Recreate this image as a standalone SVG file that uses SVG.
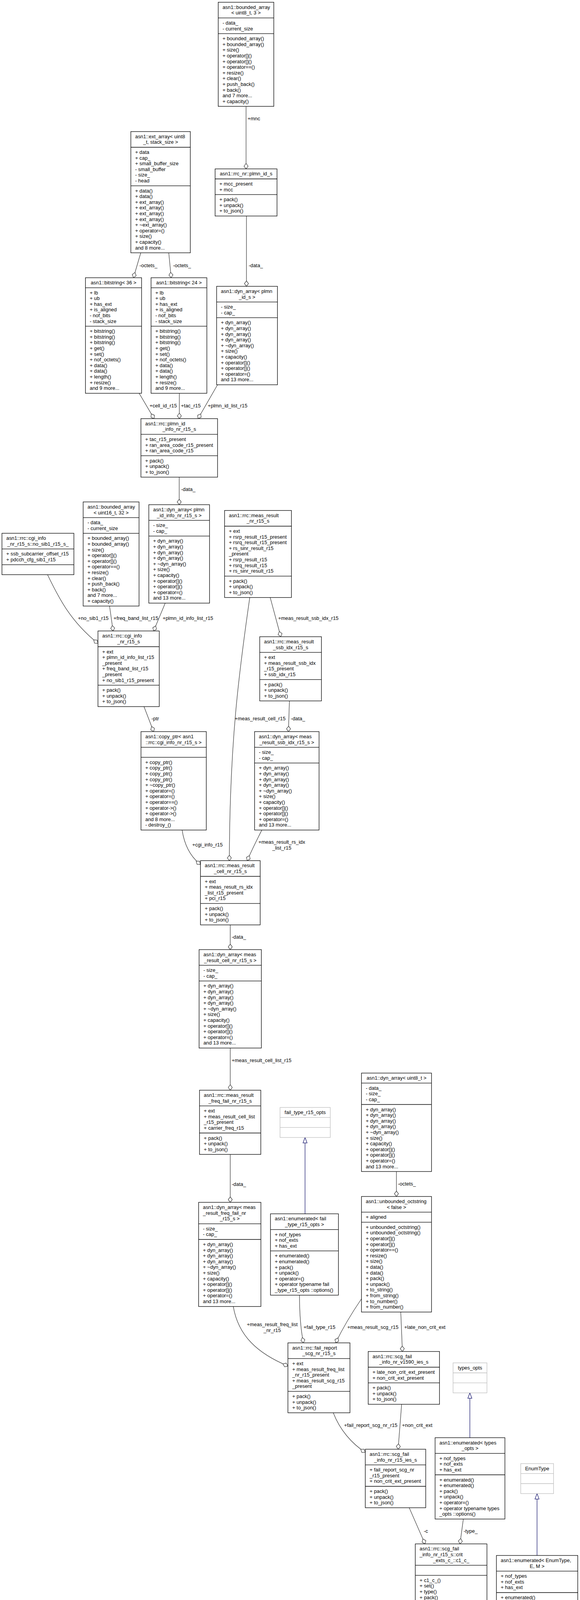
<svg xmlns="http://www.w3.org/2000/svg" width="1485" height="4527" viewBox="0 0 1485 4527">
<style>
text{font-family:"Liberation Sans",Arial,Helvetica,sans-serif;font-size:12.9px;fill:#000}
.b{fill:#fff;stroke:#000;stroke-width:1.3}
.g{fill:#fff;stroke:#bfbfbf;stroke-width:1.3}
.r{fill:#bfbfbf;stroke:#000;stroke-width:1.3}
.s{stroke:#000;stroke-width:1.3}
.sg{stroke:#bfbfbf;stroke-width:1.3}
.m{text-anchor:middle}
.e{fill:none;stroke:#404040;stroke-width:1.3;marker-end:url(#dia)}
.i{fill:none;stroke:#191970;stroke-width:1.3;marker-end:url(#tri)}
</style>
<defs>
<marker id="dia" markerUnits="userSpaceOnUse" markerWidth="16" markerHeight="12" viewBox="0 0 16 12" refX="15" refY="6" orient="auto"><path d="M1,6 L8,0.8 L15,6 L8,11.2 Z" fill="#fff" stroke="#404040" stroke-width="1.3"/></marker>
<marker id="tri" markerUnits="userSpaceOnUse" markerWidth="16" markerHeight="12" viewBox="0 0 16 12" refX="15" refY="6" orient="auto"><path d="M1,0.8 L15,6 L1,11.2 Z" fill="#fff" stroke="#191970" stroke-width="1.3"/></marker>
</defs>
<rect x="0" y="0" width="1485" height="4527" fill="#fff"/>

<g id="edges">
<path class="e" d="M630,272.3 L630,432.4"/>
<path class="e" d="M360.4,647.2 L341.7,711"/>
<path class="e" d="M432.1,647.2 L438.3,711"/>
<path class="e" d="M631,553 L631,733"/>
<path class="e" d="M356.3,1006.8 L394.5,1071.7"/>
<path class="e" d="M459.2,1006.8 L459.2,1071.7"/>
<path class="e" d="M557,985 L507,1071.7"/>
<path class="e" d="M458.8,1221.5 L458.8,1292"/>
<path class="e" d="M121.7,1471.2 C150,1530 180,1590 250.8,1647"/>
<path class="e" d="M280.5,1551.5 L289.5,1615.3"/>
<path class="e" d="M423,1544 L393.3,1615.3"/>
<path class="e" d="M691.8,1529.6 L718.9,1630"/>
<path class="e" d="M639.5,1529.6 C612,1720 588,1900 587.2,2203.3"/>
<path class="e" d="M741,1794.4 L738.5,1872.9"/>
<path class="e" d="M368.7,1808.9 L393.3,1872.9"/>
<path class="e" d="M466.2,2124.9 C472,2162 486,2192 513.3,2213"/>
<path class="e" d="M670.3,2124.9 C658,2150 645,2175 633,2203.3"/>
<path class="e" d="M589.5,2367.7 L589.5,2431"/>
<path class="e" d="M589.5,2683 L589.5,2790.9"/>
<path class="e" d="M589.5,2955.3 L589.5,3078"/>
<path class="i" d="M781,3107.4 L781,2911.9"/>
<path class="e" d="M1015,2999.1 L1015,3063"/>
<path class="e" d="M597.3,3344.6 C610,3420 660,3465 737.2,3497"/>
<path class="e" d="M766.7,3315.6 C767,3370 771,3410 777,3437.7"/>
<path class="e" d="M925.5,3325 C905,3355 880,3395 859.3,3437.7"/>
<path class="e" d="M1026.1,3358.8 L1030.3,3459.8"/>
<path class="e" d="M853.3,3616.7 C870,3660 900,3695 935.3,3718"/>
<path class="e" d="M1028.3,3595 L1019.3,3710"/>
<path class="i" d="M1203,3680.5 L1203,3565.7"/>
<path class="i" d="M1375,3982 L1375,3823.6"/>
<path class="e" d="M1047.7,3859.8 L1088.3,3952.4"/>
<path class="e" d="M1186.3,3888.7 L1177.7,3952.4"/>
<path class="e" d="M1201.7,4219 L1221.7,4283.1"/>
<path class="e" d="M1338.3,4190.2 L1308.3,4283.1"/>
<text x="634" y="308">+mnc</text>
<text x="357" y="683.5">-octets_</text>
<text x="443" y="683.5">-octets_</text>
<text x="636.7" y="683.5">-data_</text>
<text x="383" y="1043.3">+cell_id_r15</text>
<text x="463.3" y="1043.3">+tac_r15</text>
<text x="532" y="1043.3">+plmn_id_list_r15</text>
<text x="463.8" y="1256.5">-data_</text>
<text x="199.5" y="1587">+no_sib1_r15</text>
<text x="290.8" y="1587">+freq_band_list_r15</text>
<text x="416.4" y="1587">+plmn_id_info_list_r15</text>
<text x="712.3" y="1587">+meas_result_ssb_idx_r15</text>
<text x="601" y="1844">+meas_result_cell_r15</text>
<text x="744.6" y="1844">-data_</text>
<text x="387.7" y="1844">-ptr</text>
<text x="492.3" y="2167">+cgi_info_r15</text>
<text class="m" x="721.5" y="2160">+meas_result_rs_idx</text>
<text class="m" x="721.5" y="2175">_list_r15</text>
<text x="593.3" y="2403.3">-data_</text>
<text x="593.3" y="2719">+meas_result_cell_list_r15</text>
<text x="593.3" y="3035.5">-data_</text>
<text x="1018.8" y="3034.8">-octets_</text>
<text class="m" x="697" y="3395">+meas_result_freq_list</text>
<text class="m" x="697" y="3409.5">_nr_r15</text>
<text x="777.3" y="3402.2">+fail_type_r15</text>
<text x="889.3" y="3402.2">+meas_result_scg_r15</text>
<text x="1035" y="3402.2">+late_non_crit_ext</text>
<text x="881" y="3652.5">+fail_report_scg_nr_r15</text>
<text x="1029.3" y="3652.5">+non_crit_ext</text>
<text x="1085" y="3924">-c</text>
<text x="1187" y="3924">-type_</text>
<text x="1218.3" y="4255.4">-c</text>
<text x="1325" y="4255.4">-type_</text>
</g>

<g id="bounded_array_uint8_3">
<rect class="b" x="558.7" y="5.7" width="142.3" height="266.6"/>
<line class="s" x1="558.7" y1="45.9" x2="701" y2="45.9"/>
<line class="s" x1="558.7" y1="86.1" x2="701" y2="86.1"/>
<text x="569.7" y="22.7">asn1::bounded_array</text>
<text class="m" x="629.85" y="37.3">&lt; uint8_t, 3 &gt;</text>
<text><tspan x="569.7" y="62.9">- data_</tspan><tspan x="569.7" y="77.5">- current_size</tspan></text>
<text><tspan x="569.7" y="103.1">+ bounded_array()</tspan><tspan x="569.7" y="117.7">+ bounded_array()</tspan><tspan x="569.7" y="132.3">+ size()</tspan><tspan x="569.7" y="146.9">+ operator[]()</tspan><tspan x="569.7" y="161.5">+ operator[]()</tspan><tspan x="569.7" y="176.1">+ operator==()</tspan><tspan x="569.7" y="190.7">+ resize()</tspan><tspan x="569.7" y="205.3">+ clear()</tspan><tspan x="569.7" y="219.9">+ push_back()</tspan><tspan x="569.7" y="234.5">+ back()</tspan><tspan x="569.7" y="249.1">and 7 more...</tspan><tspan x="569.7" y="263.7">+ capacity()</tspan></text>
</g>

<g id="ext_array">
<rect class="b" x="335" y="336.8" width="152.3" height="310.4"/>
<line class="s" x1="335" y1="377" x2="487.3" y2="377"/>
<line class="s" x1="335" y1="475.6" x2="487.3" y2="475.6"/>
<text x="346" y="353.8">asn1::ext_array&lt; uint8</text>
<text class="m" x="411.15" y="368.4">_t, stack_size &gt;</text>
<text><tspan x="346" y="394">+ data</tspan><tspan x="346" y="408.6">+ cap_</tspan><tspan x="346" y="423.2">+ small_buffer_size</tspan><tspan x="346" y="437.8">- small_buffer</tspan><tspan x="346" y="452.4">- size_</tspan><tspan x="346" y="467">- head</tspan></text>
<text><tspan x="346" y="492.6">+ data()</tspan><tspan x="346" y="507.2">+ data()</tspan><tspan x="346" y="521.8">+ ext_array()</tspan><tspan x="346" y="536.4">+ ext_array()</tspan><tspan x="346" y="551">+ ext_array()</tspan><tspan x="346" y="565.6">+ ext_array()</tspan><tspan x="346" y="580.2">+ ~ext_array()</tspan><tspan x="346" y="594.8">+ operator=()</tspan><tspan x="346" y="609.4">+ size()</tspan><tspan x="346" y="624">+ capacity()</tspan><tspan x="346" y="638.6">and 8 more...</tspan></text>
</g>

<g id="plmn_id_s">
<rect class="b" x="550.7" y="432.4" width="158.6" height="120.6"/>
<line class="s" x1="550.7" y1="458" x2="709.3" y2="458"/>
<line class="s" x1="550.7" y1="498.2" x2="709.3" y2="498.2"/>
<text class="m" x="630" y="449.4">asn1::rrc_nr::plmn_id_s</text>
<text><tspan x="561.7" y="475">+ mcc_present</tspan><tspan x="561.7" y="489.6">+ mcc</tspan></text>
<text><tspan x="561.7" y="515.2">+ pack()</tspan><tspan x="561.7" y="529.8">+ unpack()</tspan><tspan x="561.7" y="544.4">+ to_json()</tspan></text>
</g>

<g id="bitstring_36">
<rect class="b" x="218.75" y="711" width="143.75" height="295.8"/>
<line class="s" x1="218.75" y1="736.6" x2="362.5" y2="736.6"/>
<line class="s" x1="218.75" y1="835.2" x2="362.5" y2="835.2"/>
<text class="m" x="290.6" y="728">asn1::bitstring&lt; 36 &gt;</text>
<text><tspan x="229.75" y="753.6">+ lb</tspan><tspan x="229.75" y="768.2">+ ub</tspan><tspan x="229.75" y="782.8">+ has_ext</tspan><tspan x="229.75" y="797.4">+ is_aligned</tspan><tspan x="229.75" y="812">- nof_bits</tspan><tspan x="229.75" y="826.6">- stack_size</tspan></text>
<text><tspan x="229.75" y="852.2">+ bitstring()</tspan><tspan x="229.75" y="866.8">+ bitstring()</tspan><tspan x="229.75" y="881.4">+ bitstring()</tspan><tspan x="229.75" y="896">+ get()</tspan><tspan x="229.75" y="910.6">+ set()</tspan><tspan x="229.75" y="925.2">+ nof_octets()</tspan><tspan x="229.75" y="939.8">+ data()</tspan><tspan x="229.75" y="954.4">+ data()</tspan><tspan x="229.75" y="969">+ length()</tspan><tspan x="229.75" y="983.6">+ resize()</tspan><tspan x="229.75" y="998.2">and 9 more...</tspan></text>
</g>

<g id="bitstring_24">
<rect class="b" x="386.7" y="711" width="142.9" height="295.8"/>
<line class="s" x1="386.7" y1="736.6" x2="529.6" y2="736.6"/>
<line class="s" x1="386.7" y1="835.2" x2="529.6" y2="835.2"/>
<text class="m" x="458.15" y="728">asn1::bitstring&lt; 24 &gt;</text>
<text><tspan x="397.7" y="753.6">+ lb</tspan><tspan x="397.7" y="768.2">+ ub</tspan><tspan x="397.7" y="782.8">+ has_ext</tspan><tspan x="397.7" y="797.4">+ is_aligned</tspan><tspan x="397.7" y="812">- nof_bits</tspan><tspan x="397.7" y="826.6">- stack_size</tspan></text>
<text><tspan x="397.7" y="852.2">+ bitstring()</tspan><tspan x="397.7" y="866.8">+ bitstring()</tspan><tspan x="397.7" y="881.4">+ bitstring()</tspan><tspan x="397.7" y="896">+ get()</tspan><tspan x="397.7" y="910.6">+ set()</tspan><tspan x="397.7" y="925.2">+ nof_octets()</tspan><tspan x="397.7" y="939.8">+ data()</tspan><tspan x="397.7" y="954.4">+ data()</tspan><tspan x="397.7" y="969">+ length()</tspan><tspan x="397.7" y="983.6">+ resize()</tspan><tspan x="397.7" y="998.2">and 9 more...</tspan></text>
</g>

<g id="dyn_array_plmn_id_s">
<rect class="b" x="554.6" y="733" width="155.8" height="252"/>
<line class="s" x1="554.6" y1="773.2" x2="710.4" y2="773.2"/>
<line class="s" x1="554.6" y1="813.4" x2="710.4" y2="813.4"/>
<text x="565.6" y="750">asn1::dyn_array&lt; plmn</text>
<text class="m" x="632.5" y="764.6">_id_s &gt;</text>
<text><tspan x="565.6" y="790.2">- size_</tspan><tspan x="565.6" y="804.8">- cap_</tspan></text>
<text><tspan x="565.6" y="830.4">+ dyn_array()</tspan><tspan x="565.6" y="845">+ dyn_array()</tspan><tspan x="565.6" y="859.6">+ dyn_array()</tspan><tspan x="565.6" y="874.2">+ dyn_array()</tspan><tspan x="565.6" y="888.8">+ ~dyn_array()</tspan><tspan x="565.6" y="903.4">+ size()</tspan><tspan x="565.6" y="918">+ capacity()</tspan><tspan x="565.6" y="932.6">+ operator[]()</tspan><tspan x="565.6" y="947.2">+ operator[]()</tspan><tspan x="565.6" y="961.8">+ operator=()</tspan><tspan x="565.6" y="976.4">and 13 more...</tspan></text>
</g>

<g id="plmn_id_info_nr_r15_s">
<rect class="b" x="360.8" y="1071.7" width="196.2" height="149.8"/>
<line class="s" x1="360.8" y1="1111.9" x2="557" y2="1111.9"/>
<line class="s" x1="360.8" y1="1166.7" x2="557" y2="1166.7"/>
<text x="371.8" y="1088.7">asn1::rrc::plmn_id</text>
<text class="m" x="458.9" y="1103.3">_info_nr_r15_s</text>
<text><tspan x="371.8" y="1128.9">+ tac_r15_present</tspan><tspan x="371.8" y="1143.5">+ ran_area_code_r15_present</tspan><tspan x="371.8" y="1158.1">+ ran_area_code_r15</tspan></text>
<text><tspan x="371.8" y="1183.7">+ pack()</tspan><tspan x="371.8" y="1198.3">+ unpack()</tspan><tspan x="371.8" y="1212.9">+ to_json()</tspan></text>
</g>

<g id="bounded_array_uint16_32">
<rect class="b" x="212.9" y="1284.9" width="143.1" height="266.6"/>
<line class="s" x1="212.9" y1="1325.1" x2="356" y2="1325.1"/>
<line class="s" x1="212.9" y1="1365.3" x2="356" y2="1365.3"/>
<text x="223.9" y="1301.9">asn1::bounded_array</text>
<text class="m" x="284.45" y="1316.5">&lt; uint16_t, 32 &gt;</text>
<text><tspan x="223.9" y="1342.1">- data_</tspan><tspan x="223.9" y="1356.7">- current_size</tspan></text>
<text><tspan x="223.9" y="1382.3">+ bounded_array()</tspan><tspan x="223.9" y="1396.9">+ bounded_array()</tspan><tspan x="223.9" y="1411.5">+ size()</tspan><tspan x="223.9" y="1426.1">+ operator[]()</tspan><tspan x="223.9" y="1440.7">+ operator[]()</tspan><tspan x="223.9" y="1455.3">+ operator==()</tspan><tspan x="223.9" y="1469.9">+ resize()</tspan><tspan x="223.9" y="1484.5">+ clear()</tspan><tspan x="223.9" y="1499.1">+ push_back()</tspan><tspan x="223.9" y="1513.7">+ back()</tspan><tspan x="223.9" y="1528.3">and 7 more...</tspan><tspan x="223.9" y="1542.9">+ capacity()</tspan></text>
</g>

<g id="no_sib1_r15_s">
<rect class="b" x="5" y="1365.2" width="184.2" height="106"/>
<line class="s" x1="5" y1="1405.4" x2="189.2" y2="1405.4"/>
<line class="s" x1="5" y1="1445.6" x2="189.2" y2="1445.6"/>
<text x="16" y="1382.2">asn1::rrc::cgi_info</text>
<text class="m" x="97.1" y="1396.8">_nr_r15_s::no_sib1_r15_s_</text>
<text><tspan x="16" y="1422.4">+ ssb_subcarrier_offset_r15</tspan><tspan x="16" y="1437">+ pdcch_cfg_sib1_r15</tspan></text>
</g>

<g id="dyn_array_plmn_id_info">
<rect class="b" x="381" y="1292" width="155.5" height="252"/>
<line class="s" x1="381" y1="1332.2" x2="536.5" y2="1332.2"/>
<line class="s" x1="381" y1="1372.4" x2="536.5" y2="1372.4"/>
<text x="392" y="1309">asn1::dyn_array&lt; plmn</text>
<text class="m" x="458.75" y="1323.6">_id_info_nr_r15_s &gt;</text>
<text><tspan x="392" y="1349.2">- size_</tspan><tspan x="392" y="1363.8">- cap_</tspan></text>
<text><tspan x="392" y="1389.4">+ dyn_array()</tspan><tspan x="392" y="1404">+ dyn_array()</tspan><tspan x="392" y="1418.6">+ dyn_array()</tspan><tspan x="392" y="1433.2">+ dyn_array()</tspan><tspan x="392" y="1447.8">+ ~dyn_array()</tspan><tspan x="392" y="1462.4">+ size()</tspan><tspan x="392" y="1477">+ capacity()</tspan><tspan x="392" y="1491.6">+ operator[]()</tspan><tspan x="392" y="1506.2">+ operator[]()</tspan><tspan x="392" y="1520.8">+ operator=()</tspan><tspan x="392" y="1535.4">and 13 more...</tspan></text>
</g>

<g id="meas_result_nr_r15_s">
<rect class="b" x="575" y="1306.8" width="171.2" height="222.8"/>
<line class="s" x1="575" y1="1347" x2="746.2" y2="1347"/>
<line class="s" x1="575" y1="1474.8" x2="746.2" y2="1474.8"/>
<text x="586" y="1323.8">asn1::rrc::meas_result</text>
<text class="m" x="660.6" y="1338.4">_nr_r15_s</text>
<text><tspan x="586" y="1364">+ ext</tspan><tspan x="586" y="1378.6">+ rsrp_result_r15_present</tspan><tspan x="586" y="1393.2">+ rsrq_result_r15_present</tspan><tspan x="586" y="1407.8">+ rs_sinr_result_r15</tspan><tspan x="586" y="1422.4">_present</tspan><tspan x="586" y="1437">+ rsrp_result_r15</tspan><tspan x="586" y="1451.6">+ rsrq_result_r15</tspan><tspan x="586" y="1466.2">+ rs_sinr_result_r15</tspan></text>
<text><tspan x="586" y="1491.8">+ pack()</tspan><tspan x="586" y="1506.4">+ unpack()</tspan><tspan x="586" y="1521">+ to_json()</tspan></text>
</g>

<g id="cgi_info_nr_r15_s">
<rect class="b" x="250.8" y="1615.3" width="156.9" height="193.6"/>
<line class="s" x1="250.8" y1="1655.5" x2="407.7" y2="1655.5"/>
<line class="s" x1="250.8" y1="1754.1" x2="407.7" y2="1754.1"/>
<text x="261.8" y="1632.3">asn1::rrc::cgi_info</text>
<text class="m" x="329.25" y="1646.9">_nr_r15_s</text>
<text><tspan x="261.8" y="1672.5">+ ext</tspan><tspan x="261.8" y="1687.1">+ plmn_id_info_list_r15</tspan><tspan x="261.8" y="1701.7">_present</tspan><tspan x="261.8" y="1716.3">+ freq_band_list_r15</tspan><tspan x="261.8" y="1730.9">_present</tspan><tspan x="261.8" y="1745.5">+ no_sib1_r15_present</tspan></text>
<text><tspan x="261.8" y="1771.1">+ pack()</tspan><tspan x="261.8" y="1785.7">+ unpack()</tspan><tspan x="261.8" y="1800.3">+ to_json()</tspan></text>
</g>

<g id="meas_result_ssb_idx_r15_s">
<rect class="b" x="665" y="1630" width="158" height="164.4"/>
<line class="s" x1="665" y1="1670.2" x2="823" y2="1670.2"/>
<line class="s" x1="665" y1="1739.6" x2="823" y2="1739.6"/>
<text x="676" y="1647">asn1::rrc::meas_result</text>
<text class="m" x="744" y="1661.6">_ssb_idx_r15_s</text>
<text><tspan x="676" y="1687.2">+ ext</tspan><tspan x="676" y="1701.8">+ meas_result_ssb_idx</tspan><tspan x="676" y="1716.4">_r15_present</tspan><tspan x="676" y="1731">+ ssb_idx_r15</tspan></text>
<text><tspan x="676" y="1756.6">+ pack()</tspan><tspan x="676" y="1771.2">+ unpack()</tspan><tspan x="676" y="1785.8">+ to_json()</tspan></text>
</g>

<g id="copy_ptr_cgi_info">
<rect class="b" x="361" y="1872.9" width="167.2" height="252"/>
<line class="s" x1="361" y1="1913.1" x2="528.2" y2="1913.1"/>
<line class="s" x1="361" y1="1938.7" x2="528.2" y2="1938.7"/>
<text x="372" y="1889.9">asn1::copy_ptr&lt; asn1</text>
<text class="m" x="444.6" y="1904.5">::rrc::cgi_info_nr_r15_s &gt;</text>
<text><tspan x="372" y="1955.7">+ copy_ptr()</tspan><tspan x="372" y="1970.3">+ copy_ptr()</tspan><tspan x="372" y="1984.9">+ copy_ptr()</tspan><tspan x="372" y="1999.5">+ copy_ptr()</tspan><tspan x="372" y="2014.1">+ ~copy_ptr()</tspan><tspan x="372" y="2028.7">+ operator=()</tspan><tspan x="372" y="2043.3">+ operator=()</tspan><tspan x="372" y="2057.9">+ operator==()</tspan><tspan x="372" y="2072.5">+ operator-&gt;()</tspan><tspan x="372" y="2087.1">+ operator-&gt;()</tspan><tspan x="372" y="2101.7">and 8 more...</tspan><tspan x="372" y="2116.3">- destroy_()</tspan></text>
</g>

<g id="dyn_array_meas_result_ssb_idx">
<rect class="b" x="651.8" y="1872.9" width="165.1" height="252"/>
<line class="s" x1="651.8" y1="1913.1" x2="816.9" y2="1913.1"/>
<line class="s" x1="651.8" y1="1953.3" x2="816.9" y2="1953.3"/>
<text x="662.8" y="1889.9">asn1::dyn_array&lt; meas</text>
<text class="m" x="734.35" y="1904.5">_result_ssb_idx_r15_s &gt;</text>
<text><tspan x="662.8" y="1930.1">- size_</tspan><tspan x="662.8" y="1944.7">- cap_</tspan></text>
<text><tspan x="662.8" y="1970.3">+ dyn_array()</tspan><tspan x="662.8" y="1984.9">+ dyn_array()</tspan><tspan x="662.8" y="1999.5">+ dyn_array()</tspan><tspan x="662.8" y="2014.1">+ dyn_array()</tspan><tspan x="662.8" y="2028.7">+ ~dyn_array()</tspan><tspan x="662.8" y="2043.3">+ size()</tspan><tspan x="662.8" y="2057.9">+ capacity()</tspan><tspan x="662.8" y="2072.5">+ operator[]()</tspan><tspan x="662.8" y="2087.1">+ operator[]()</tspan><tspan x="662.8" y="2101.7">+ operator=()</tspan><tspan x="662.8" y="2116.3">and 13 more...</tspan></text>
</g>

<g id="meas_result_cell_nr_r15_s">
<rect class="b" x="513.3" y="2203.3" width="152.9" height="164.4"/>
<line class="s" x1="513.3" y1="2243.5" x2="666.2" y2="2243.5"/>
<line class="s" x1="513.3" y1="2312.9" x2="666.2" y2="2312.9"/>
<text x="524.3" y="2220.3">asn1::rrc::meas_result</text>
<text class="m" x="589.75" y="2234.9">_cell_nr_r15_s</text>
<text><tspan x="524.3" y="2260.5">+ ext</tspan><tspan x="524.3" y="2275.1">+ meas_result_rs_idx</tspan><tspan x="524.3" y="2289.7">_list_r15_present</tspan><tspan x="524.3" y="2304.3">+ pci_r15</tspan></text>
<text><tspan x="524.3" y="2329.9">+ pack()</tspan><tspan x="524.3" y="2344.5">+ unpack()</tspan><tspan x="524.3" y="2359.1">+ to_json()</tspan></text>
</g>

<g id="dyn_array_meas_result_cell">
<rect class="b" x="509.7" y="2431" width="159.5" height="252"/>
<line class="s" x1="509.7" y1="2471.2" x2="669.2" y2="2471.2"/>
<line class="s" x1="509.7" y1="2511.4" x2="669.2" y2="2511.4"/>
<text x="520.7" y="2448">asn1::dyn_array&lt; meas</text>
<text class="m" x="589.45" y="2462.6">_result_cell_nr_r15_s &gt;</text>
<text><tspan x="520.7" y="2488.2">- size_</tspan><tspan x="520.7" y="2502.8">- cap_</tspan></text>
<text><tspan x="520.7" y="2528.4">+ dyn_array()</tspan><tspan x="520.7" y="2543">+ dyn_array()</tspan><tspan x="520.7" y="2557.6">+ dyn_array()</tspan><tspan x="520.7" y="2572.2">+ dyn_array()</tspan><tspan x="520.7" y="2586.8">+ ~dyn_array()</tspan><tspan x="520.7" y="2601.4">+ size()</tspan><tspan x="520.7" y="2616">+ capacity()</tspan><tspan x="520.7" y="2630.6">+ operator[]()</tspan><tspan x="520.7" y="2645.2">+ operator[]()</tspan><tspan x="520.7" y="2659.8">+ operator=()</tspan><tspan x="520.7" y="2674.4">and 13 more...</tspan></text>
</g>

<g id="meas_result_freq_fail_nr_r15_s">
<rect class="b" x="510.8" y="2790.9" width="156.9" height="164.4"/>
<line class="s" x1="510.8" y1="2831.1" x2="667.7" y2="2831.1"/>
<line class="s" x1="510.8" y1="2900.5" x2="667.7" y2="2900.5"/>
<text x="521.8" y="2807.9">asn1::rrc::meas_result</text>
<text class="m" x="589.25" y="2822.5">_freq_fail_nr_r15_s</text>
<text><tspan x="521.8" y="2848.1">+ ext</tspan><tspan x="521.8" y="2862.7">+ meas_result_cell_list</tspan><tspan x="521.8" y="2877.3">_r15_present</tspan><tspan x="521.8" y="2891.9">+ carrier_freq_r15</tspan></text>
<text><tspan x="521.8" y="2917.5">+ pack()</tspan><tspan x="521.8" y="2932.1">+ unpack()</tspan><tspan x="521.8" y="2946.7">+ to_json()</tspan></text>
</g>

<g id="fail_type_r15_opts">
<rect class="g" x="717" y="2835.1" width="128.6" height="76.8"/>
<line class="sg" x1="717" y1="2860.7" x2="845.6" y2="2860.7"/>
<line class="sg" x1="717" y1="2886.3" x2="845.6" y2="2886.3"/>
<text class="m" x="781.3" y="2852.1">fail_type_r15_opts</text>
</g>

<g id="dyn_array_meas_result_freq_fail">
<rect class="b" x="508.5" y="3078" width="159.5" height="266.6"/>
<line class="s" x1="508.5" y1="3132.8" x2="668" y2="3132.8"/>
<line class="s" x1="508.5" y1="3173" x2="668" y2="3173"/>
<text x="519.5" y="3095">asn1::dyn_array&lt; meas</text>
<text x="519.5" y="3109.6">_result_freq_fail_nr</text>
<text class="m" x="588.25" y="3124.2">_r15_s &gt;</text>
<text><tspan x="519.5" y="3149.8">- size_</tspan><tspan x="519.5" y="3164.4">- cap_</tspan></text>
<text><tspan x="519.5" y="3190">+ dyn_array()</tspan><tspan x="519.5" y="3204.6">+ dyn_array()</tspan><tspan x="519.5" y="3219.2">+ dyn_array()</tspan><tspan x="519.5" y="3233.8">+ dyn_array()</tspan><tspan x="519.5" y="3248.4">+ ~dyn_array()</tspan><tspan x="519.5" y="3263">+ size()</tspan><tspan x="519.5" y="3277.6">+ capacity()</tspan><tspan x="519.5" y="3292.2">+ operator[]()</tspan><tspan x="519.5" y="3306.8">+ operator[]()</tspan><tspan x="519.5" y="3321.4">+ operator=()</tspan><tspan x="519.5" y="3336">and 13 more...</tspan></text>
</g>

<g id="enumerated_fail_type_r15_opts">
<rect class="b" x="692.5" y="3107.4" width="174" height="208.2"/>
<line class="s" x1="692.5" y1="3147.6" x2="866.5" y2="3147.6"/>
<line class="s" x1="692.5" y1="3202.4" x2="866.5" y2="3202.4"/>
<text x="703.5" y="3124.4">asn1::enumerated&lt; fail</text>
<text class="m" x="779.5" y="3139">_type_r15_opts &gt;</text>
<text><tspan x="703.5" y="3164.6">+ nof_types</tspan><tspan x="703.5" y="3179.2">+ nof_exts</tspan><tspan x="703.5" y="3193.8">+ has_ext</tspan></text>
<text><tspan x="703.5" y="3219.4">+ enumerated()</tspan><tspan x="703.5" y="3234">+ enumerated()</tspan><tspan x="703.5" y="3248.6">+ pack()</tspan><tspan x="703.5" y="3263.2">+ unpack()</tspan><tspan x="703.5" y="3277.8">+ operator=()</tspan><tspan x="703.5" y="3292.4">+ operator typename fail</tspan><tspan x="703.5" y="3307">_type_r15_opts ::options()</tspan></text>
</g>

<g id="dyn_array_uint8_t">
<rect class="b" x="925.5" y="2747.1" width="179.3" height="252"/>
<line class="s" x1="925.5" y1="2772.7" x2="1104.8" y2="2772.7"/>
<line class="s" x1="925.5" y1="2827.5" x2="1104.8" y2="2827.5"/>
<text class="m" x="1015.15" y="2764.1">asn1::dyn_array&lt; uint8_t &gt;</text>
<text><tspan x="936.5" y="2789.7">- data_</tspan><tspan x="936.5" y="2804.3">- size_</tspan><tspan x="936.5" y="2818.9">- cap_</tspan></text>
<text><tspan x="936.5" y="2844.5">+ dyn_array()</tspan><tspan x="936.5" y="2859.1">+ dyn_array()</tspan><tspan x="936.5" y="2873.7">+ dyn_array()</tspan><tspan x="936.5" y="2888.3">+ dyn_array()</tspan><tspan x="936.5" y="2902.9">+ ~dyn_array()</tspan><tspan x="936.5" y="2917.5">+ size()</tspan><tspan x="936.5" y="2932.1">+ capacity()</tspan><tspan x="936.5" y="2946.7">+ operator[]()</tspan><tspan x="936.5" y="2961.3">+ operator[]()</tspan><tspan x="936.5" y="2975.9">+ operator=()</tspan><tspan x="936.5" y="2990.5">and 13 more...</tspan></text>
</g>

<g id="unbounded_octstring_false">
<rect class="b" x="925.5" y="3063" width="179.3" height="295.8"/>
<line class="s" x1="925.5" y1="3103.2" x2="1104.8" y2="3103.2"/>
<line class="s" x1="925.5" y1="3128.8" x2="1104.8" y2="3128.8"/>
<text x="936.5" y="3080">asn1::unbounded_octstring</text>
<text class="m" x="1015.15" y="3094.6">&lt; false &gt;</text>
<text x="936.5" y="3120.2">+ aligned</text>
<text><tspan x="936.5" y="3145.8">+ unbounded_octstring()</tspan><tspan x="936.5" y="3160.4">+ unbounded_octstring()</tspan><tspan x="936.5" y="3175">+ operator[]()</tspan><tspan x="936.5" y="3189.6">+ operator[]()</tspan><tspan x="936.5" y="3204.2">+ operator==()</tspan><tspan x="936.5" y="3218.8">+ resize()</tspan><tspan x="936.5" y="3233.4">+ size()</tspan><tspan x="936.5" y="3248">+ data()</tspan><tspan x="936.5" y="3262.6">+ data()</tspan><tspan x="936.5" y="3277.2">+ pack()</tspan><tspan x="936.5" y="3291.8">+ unpack()</tspan><tspan x="936.5" y="3306.4">+ to_string()</tspan><tspan x="936.5" y="3321">+ from_string()</tspan><tspan x="936.5" y="3335.6">+ to_number()</tspan><tspan x="936.5" y="3350.2">+ from_number()</tspan></text>
</g>

<g id="fail_report_scg_nr_r15_s">
<rect class="b" x="737.2" y="3437.7" width="158.8" height="179"/>
<line class="s" x1="737.2" y1="3477.9" x2="896" y2="3477.9"/>
<line class="s" x1="737.2" y1="3561.9" x2="896" y2="3561.9"/>
<text x="748.2" y="3454.7">asn1::rrc::fail_report</text>
<text class="m" x="816.6" y="3469.3">_scg_nr_r15_s</text>
<text><tspan x="748.2" y="3494.9">+ ext</tspan><tspan x="748.2" y="3509.5">+ meas_result_freq_list</tspan><tspan x="748.2" y="3524.1">_nr_r15_present</tspan><tspan x="748.2" y="3538.7">+ meas_result_scg_r15</tspan><tspan x="748.2" y="3553.3">_present</tspan></text>
<text><tspan x="748.2" y="3578.9">+ pack()</tspan><tspan x="748.2" y="3593.5">+ unpack()</tspan><tspan x="748.2" y="3608.1">+ to_json()</tspan></text>
</g>

<g id="scg_fail_info_nr_v1590_ies_s">
<rect class="b" x="942.7" y="3459.8" width="182.6" height="135.2"/>
<line class="s" x1="942.7" y1="3500" x2="1125.3" y2="3500"/>
<line class="s" x1="942.7" y1="3540.2" x2="1125.3" y2="3540.2"/>
<text x="953.7" y="3476.8">asn1::rrc::scg_fail</text>
<text class="m" x="1034" y="3491.4">_info_nr_v1590_ies_s</text>
<text><tspan x="953.7" y="3517">+ late_non_crit_ext_present</tspan><tspan x="953.7" y="3531.6">+ non_crit_ext_present</tspan></text>
<text><tspan x="953.7" y="3557.2">+ pack()</tspan><tspan x="953.7" y="3571.8">+ unpack()</tspan><tspan x="953.7" y="3586.4">+ to_json()</tspan></text>
</g>

<g id="types_opts">
<rect class="g" x="1160" y="3488.9" width="86.7" height="76.8"/>
<line class="sg" x1="1160" y1="3514.5" x2="1246.7" y2="3514.5"/>
<line class="sg" x1="1160" y1="3540.1" x2="1246.7" y2="3540.1"/>
<text class="m" x="1203.35" y="3505.9">types_opts</text>
</g>

<g id="enumerated_types_opts">
<rect class="b" x="1114" y="3680.5" width="178.7" height="208.2"/>
<line class="s" x1="1114" y1="3720.7" x2="1292.7" y2="3720.7"/>
<line class="s" x1="1114" y1="3775.5" x2="1292.7" y2="3775.5"/>
<text x="1125" y="3697.5">asn1::enumerated&lt; types</text>
<text class="m" x="1203.35" y="3712.1">_opts &gt;</text>
<text><tspan x="1125" y="3737.7">+ nof_types</tspan><tspan x="1125" y="3752.3">+ nof_exts</tspan><tspan x="1125" y="3766.9">+ has_ext</tspan></text>
<text><tspan x="1125" y="3792.5">+ enumerated()</tspan><tspan x="1125" y="3807.1">+ enumerated()</tspan><tspan x="1125" y="3821.7">+ pack()</tspan><tspan x="1125" y="3836.3">+ unpack()</tspan><tspan x="1125" y="3850.9">+ operator=()</tspan><tspan x="1125" y="3865.5">+ operator typename types</tspan><tspan x="1125" y="3880.1">_opts ::options()</tspan></text>
</g>

<g id="EnumType">
<rect class="g" x="1333.3" y="3746.8" width="84" height="76.8"/>
<line class="sg" x1="1333.3" y1="3772.4" x2="1417.3" y2="3772.4"/>
<line class="sg" x1="1333.3" y1="3798" x2="1417.3" y2="3798"/>
<text class="m" x="1375.3" y="3763.8">EnumType</text>
</g>

<g id="scg_fail_info_nr_r15_ies_s">
<rect class="b" x="935.3" y="3710" width="154.7" height="149.8"/>
<line class="s" x1="935.3" y1="3750.2" x2="1090" y2="3750.2"/>
<line class="s" x1="935.3" y1="3805" x2="1090" y2="3805"/>
<text x="946.3" y="3727">asn1::rrc::scg_fail</text>
<text class="m" x="1012.65" y="3741.6">_info_nr_r15_ies_s</text>
<text><tspan x="946.3" y="3767.2">+ fail_report_scg_nr</tspan><tspan x="946.3" y="3781.8">_r15_present</tspan><tspan x="946.3" y="3796.4">+ non_crit_ext_present</tspan></text>
<text><tspan x="946.3" y="3822">+ pack()</tspan><tspan x="946.3" y="3836.6">+ unpack()</tspan><tspan x="946.3" y="3851.2">+ to_json()</tspan></text>
</g>

<g id="c1_c_">
<rect class="b" x="1063.3" y="3952.4" width="183.4" height="266.6"/>
<line class="s" x1="1063.3" y1="4007.2" x2="1246.7" y2="4007.2"/>
<line class="s" x1="1063.3" y1="4032.8" x2="1246.7" y2="4032.8"/>
<text x="1074.3" y="3969.4">asn1::rrc::scg_fail</text>
<text x="1074.3" y="3984">_info_nr_r15_s::crit</text>
<text class="m" x="1155" y="3998.6">_exts_c_::c1_c_</text>
<text><tspan x="1074.3" y="4049.8">+ c1_c_()</tspan><tspan x="1074.3" y="4064.4">+ set()</tspan><tspan x="1074.3" y="4079">+ type()</tspan><tspan x="1074.3" y="4093.6">+ pack()</tspan><tspan x="1074.3" y="4108.2">+ unpack()</tspan><tspan x="1074.3" y="4122.8">+ to_json()</tspan><tspan x="1074.3" y="4137.4">+ scg_fail_info_nr_r15()</tspan><tspan x="1074.3" y="4152">+ scg_fail_info_nr_r15()</tspan><tspan x="1074.3" y="4166.6">+ set_scg_fail_info_nr_r15()</tspan><tspan x="1074.3" y="4181.2">+ set_spare3()</tspan><tspan x="1074.3" y="4195.8">+ set_spare2()</tspan><tspan x="1074.3" y="4210.4">+ set_spare1()</tspan></text>
</g>

<g id="enumerated_EnumType_E_M">
<rect class="b" x="1271" y="3982" width="208.3" height="208.2"/>
<line class="s" x1="1271" y1="4022.2" x2="1479.3" y2="4022.2"/>
<line class="s" x1="1271" y1="4077" x2="1479.3" y2="4077"/>
<text x="1282" y="3999">asn1::enumerated&lt; EnumType,</text>
<text class="m" x="1375.15" y="4013.6">E, M &gt;</text>
<text><tspan x="1282" y="4039.2">+ nof_types</tspan><tspan x="1282" y="4053.8">+ nof_exts</tspan><tspan x="1282" y="4068.4">+ has_ext</tspan></text>
<text><tspan x="1282" y="4094">+ enumerated()</tspan><tspan x="1282" y="4108.6">+ enumerated()</tspan><tspan x="1282" y="4123.2">+ pack()</tspan><tspan x="1282" y="4137.8">+ unpack()</tspan><tspan x="1282" y="4152.4">+ operator=()</tspan><tspan x="1282" y="4167">+ operator typename EnumType</tspan><tspan x="1282" y="4181.6">::options()</tspan></text>
</g>

<g id="crit_exts_c_">
<rect class="r" x="1185.7" y="4283.1" width="157.6" height="237.4"/>
<line class="s" x1="1185.7" y1="4337.9" x2="1343.3" y2="4337.9"/>
<line class="s" x1="1185.7" y1="4363.5" x2="1343.3" y2="4363.5"/>
<text x="1196.7" y="4300.1">asn1::rrc::scg_fail</text>
<text x="1196.7" y="4314.7">_info_nr_r15_s::crit</text>
<text class="m" x="1264.5" y="4329.3">_exts_c_</text>
<text><tspan x="1196.7" y="4380.5">+ crit_exts_c_()</tspan><tspan x="1196.7" y="4395.1">+ set()</tspan><tspan x="1196.7" y="4409.7">+ type()</tspan><tspan x="1196.7" y="4424.3">+ pack()</tspan><tspan x="1196.7" y="4438.9">+ unpack()</tspan><tspan x="1196.7" y="4453.5">+ to_json()</tspan><tspan x="1196.7" y="4468.1">+ c1()</tspan><tspan x="1196.7" y="4482.7">+ c1()</tspan><tspan x="1196.7" y="4497.3">+ set_c1()</tspan><tspan x="1196.7" y="4511.9">+ set_crit_exts_future()</tspan></text>
</g>
</svg>
